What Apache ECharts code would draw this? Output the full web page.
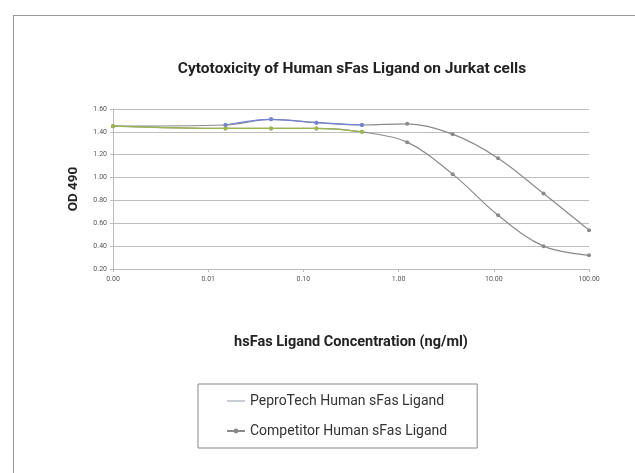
<!DOCTYPE html>
<html>
<head>
<meta charset="utf-8">
<script src="https://cdn.jsdelivr.net/npm/echarts@6/dist/echarts.min.js"></script>
<style>
html,body{margin:0;padding:0;background:#fff;}
#main{width:635px;height:473px;}
</style>
</head>
<body>
<div id="main"></div>
<script>
// Concentrations (ng/ml), 3-fold dilutions; first point sits at the axis minimum
var concentrations = [0.001, 0.0152, 0.0457, 0.137, 0.412, 1.23, 3.70, 11.1, 33.3, 100];
var peprotechOD = [1.45, 1.43, 1.43, 1.43, 1.40, 1.31, 1.03, 0.67, 0.40, 0.32];
var competitorOD = [1.45, 1.46, 1.51, 1.48, 1.46, 1.47, 1.38, 1.17, 0.86, 0.54];
var seriesNames = ['PeproTech Human sFas Ligand', 'Competitor Human sFas Ligand'];
var xTickLabels = ['0.00', '0.01', '0.10', '1.00', '10.00', '100.00'];
var yTickLabels = ['0.20', '0.40', '0.60', '0.80', '1.00', '1.20', '1.40', '1.60'];

function pairs(xs, ys) { return xs.map(function (x, i) { return [x, ys[i]]; }); }

var chart = echarts.init(document.getElementById('main'), null, {renderer: 'canvas'});
var grey = '#8a8a8a';
var option = {
  backgroundColor: '#fff',
  animation: false,
  graphic: [
    {type: 'line', shape: {x1: 13, y1: 15.5, x2: 635, y2: 15.5}, style: {stroke: '#999', lineWidth: 1}},
    {type: 'line', shape: {x1: 13.5, y1: 15, x2: 13.5, y2: 473}, style: {stroke: '#999', lineWidth: 1}}
  ],
  title: {
    text: 'Cytotoxicity of Human sFas Ligand on Jurkat cells',
    left: 347, top: 56, textAlign: 'center',
    textStyle: {fontFamily: 'Roboto', fontSize: 15.5, fontWeight: 'bold', color: '#222'}
  },
  grid: {left: 113, right: 46, top: 109, bottom: 204, containLabel: false},
  xAxis: {
    type: 'log', logBase: 10, min: 0.001, max: 100,
    name: 'hsFas Ligand Concentration (ng/ml)',
    nameLocation: 'middle', nameGap: 66,
    nameTextStyle: {fontFamily: 'Roboto', fontSize: 14.5, fontWeight: 'bold', color: '#222'},
    axisLine: {lineStyle: {color: '#bbb'}},
    axisTick: {show: true, length: 3, lineStyle: {color: '#bbb'}},
    minorTick: {show: false},
    splitLine: {show: false},
    axisLabel: {
      fontFamily: 'Roboto', fontSize: 7, color: '#555', margin: 7,
      formatter: function (v) {
        var idx = Math.round(Math.log10(v) + 3);
        return xTickLabels[idx] !== undefined ? xTickLabels[idx] : '';
      }
    }
  },
  yAxis: {
    type: 'value', min: 0.2, max: 1.6, interval: 0.2,
    name: 'OD 490', nameLocation: 'middle', nameGap: 32, nameRotate: 90,
    nameTextStyle: {fontFamily: 'Roboto', fontSize: 13.5, fontWeight: 'bold', color: '#222'},
    axisLine: {show: true, lineStyle: {color: '#bbb'}},
    axisTick: {show: true, length: 3, lineStyle: {color: '#bbb'}},
    splitLine: {lineStyle: {color: '#bdbdbd', width: 1}},
    axisLabel: {
      fontFamily: 'Roboto', fontSize: 7, color: '#555', margin: 6,
      formatter: function (v) {
        var idx = Math.round((v - 0.2) / 0.2);
        return yTickLabels[idx] !== undefined ? yTickLabels[idx] : '';
      }
    }
  },
  legend: {
    orient: 'vertical', left: 198, top: 384,
    padding: [10, 30, 10, 28], itemGap: 16,
    itemWidth: 18, itemHeight: 6,
    borderColor: '#888', borderWidth: 1,
    textStyle: {fontFamily: 'Roboto', fontSize: 14, color: '#333'},
    data: [
      {name: seriesNames[0], icon: 'path://M0,0 L20,0 L20,1.2 L0,1.2 Z', itemStyle: {color: '#9aa3b0'}},
      {name: seriesNames[1]}
    ]
  },
  series: [
    {
      name: seriesNames[0], type: 'line', smooth: 0.35,
      data: pairs(concentrations, peprotechOD),
      symbol: 'circle', symbolSize: 4,
      itemStyle: {color: grey},
      lineStyle: {width: 1.2, color: grey}, z: 3
    },
    {
      name: seriesNames[1], type: 'line', smooth: 0.35,
      data: pairs(concentrations, competitorOD),
      symbol: 'circle', symbolSize: 4,
      itemStyle: {color: grey},
      lineStyle: {width: 1.2, color: grey}, z: 2
    },
    {
      name: 'peprotech-left', type: 'line', smooth: 0.35,
      data: pairs(concentrations.slice(0, 5), peprotechOD.slice(0, 5)),
      symbol: 'circle', symbolSize: 4, legendHoverLink: false,
      itemStyle: {color: '#9cb84c'},
      lineStyle: {width: 1.2, color: '#9cb84c'}, z: 5
    },
    {
      name: 'competitor-left', type: 'line', smooth: 0.35,
      data: pairs(concentrations.slice(1, 5), competitorOD.slice(1, 5)),
      symbol: 'circle', symbolSize: 4, legendHoverLink: false,
      itemStyle: {color: '#7383d8'},
      lineStyle: {width: 1.2, color: '#7383d8'}, z: 4
    }
  ]
};
chart.setOption(option);
</script>
</body>
</html>
